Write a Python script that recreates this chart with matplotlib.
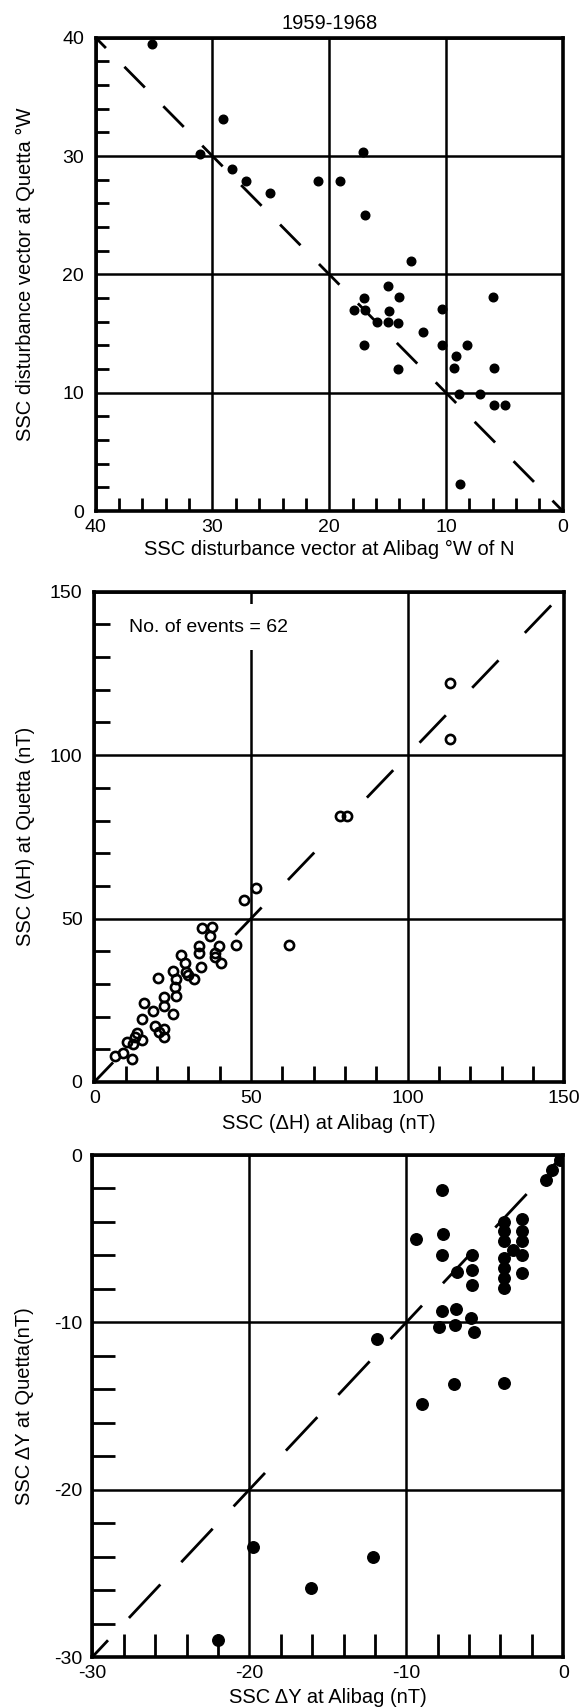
import matplotlib
matplotlib.use("Agg")
import matplotlib.pyplot as plt
import numpy as np
from matplotlib.ticker import MultipleLocator

plt.rcParams['font.family'] = ['Liberation Sans', 'DejaVu Sans']
plt.rcParams['axes.unicode_minus'] = False

# ---------------- data ----------------
title_1 = "1959-1968"
p1_alibag = [35.2, 31.1, 29.1, 28.3, 27.1, 25.1, 21.0, 19.1, 17.1, 16.9, 13.0, 17.9,
             17.0, 16.9, 17.0, 15.9, 15.0, 14.9, 15.0, 14.0, 14.1, 14.1, 12.0, 10.3,
             10.3, 9.1, 9.3, 8.9, 8.2, 7.1, 6.0, 5.9, 5.9, 4.9, 8.8]
p1_quetta = [39.5, 30.2, 33.1, 28.9, 27.9, 26.9, 27.9, 27.9, 30.3, 25.0, 21.1, 17.0,
             18.0, 17.0, 14.0, 16.0, 19.0, 16.9, 16.0, 18.1, 15.9, 12.0, 15.1, 17.1,
             14.0, 13.1, 12.1, 9.9, 14.0, 9.9, 18.1, 12.1, 9.0, 9.0, 2.3]

p2_alibag = [113.5, 113.5, 78.5, 80.8, 62.0, 51.5, 47.7, 45.1,
             34.5, 37.6, 36.8, 33.4, 39.7, 33.4, 38.4, 38.4, 40.4, 27.8,
             29.1, 34.0, 29.4, 30.0, 31.8, 25.1, 26.2, 20.3, 25.6, 26.0,
             22.1, 22.1, 15.9, 18.8, 25.1, 15.2, 19.5, 22.2, 20.5, 22.4,
             13.6, 12.9, 12.4, 15.2, 10.5, 9.0, 6.5, 12.0]
p2_quetta = [122.0, 105.0, 81.5, 81.3, 42.0, 59.5, 55.6, 41.9,
             47.2, 47.5, 44.8, 41.6, 41.6, 39.4, 39.4, 38.2, 36.4, 38.9,
             36.4, 35.1, 33.8, 32.8, 31.6, 34.0, 31.5, 31.8, 29.0, 26.3,
             26.0, 23.4, 24.2, 21.7, 20.7, 19.2, 17.0, 16.2, 15.2, 13.8,
             15.0, 13.7, 11.5, 12.8, 12.2, 8.8, 8.0, 7.0]
p2_note = "No. of events = 62"

p3_alibag = [-0.2, -0.7, -1.1, -7.7, -9.4, -7.65, -7.7, -5.8, -6.8, -5.8, -5.8, -7.7,
             -6.85, -7.9, -6.9, -5.85, -5.7, -11.85, -6.95, -9.0, -3.8, -19.75, -12.1,
             -16.1, -22.0,
             -3.75, -3.75, -3.75, -3.75, -3.75, -3.75, -3.75,
             -2.65, -2.65, -2.65, -2.65, -2.65, -3.2]
p3_quetta = [-0.3, -0.9, -1.5, -2.1, -5.0, -4.75, -6.0, -5.95, -7.0, -6.9, -7.75, -9.35,
             -9.2, -10.3, -10.15, -9.75, -10.6, -11.0, -13.7, -14.9, -13.65, -23.4, -24.0,
             -25.9, -29.0,
             -4.0, -4.55, -5.15, -6.15, -6.75, -7.35, -7.95,
             -3.85, -4.55, -5.15, -6.0, -7.05, -5.7]

# y = x reference line: visible stretches (panel 2 is interrupted in the original)
p2_diag_ranges = [(0, 6), (45, 72), (87, 148)]

labels = {
    'p1x': "SSC disturbance vector at Alibag °W of N",
    'p1y': "SSC disturbance vector at Quetta °W",
    'p2x': "SSC (ΔH) at Alibag (nT)",
    'p2y': "SSC (ΔH) at Quetta (nT)",
    'p3x': "SSC ΔY at Alibag (nT)",
    'p3y': "SSC ΔY at Quetta(nT)",
}

# ---------------- figure ----------------
W, H = 585, 1707
fig = plt.figure(figsize=(W / 100, H / 100), dpi=100)


def add_axes_px(left, top, right, bottom):
    return fig.add_axes([left / W, 1 - bottom / H, (right - left) / W, (bottom - top) / H])


ax1 = add_axes_px(95.7, 37.7, 562.7, 511.0)
ax2 = add_axes_px(94.3, 591.7, 564.3, 1082.0)
ax3 = add_axes_px(92.3, 1155.0, 563.3, 1657.0)


def style(ax, xlim, ylim, major, minor, ticklen, xpad, ypad):
    ax.set_xlim(*xlim)
    ax.set_ylim(*ylim)
    for axis in (ax.xaxis, ax.yaxis):
        axis.set_major_locator(MultipleLocator(major))
        axis.set_minor_locator(MultipleLocator(minor))
    ax.grid(True, which='major', color='black', linewidth=1.8, zorder=1)
    ax.set_axisbelow(True)
    ax.tick_params(which='both', direction='in', top=False, right=False,
                   width=2.0, color='black')
    ax.tick_params(which='major', length=0, labelsize=14)
    ax.tick_params(which='minor', length=ticklen)
    ax.tick_params(axis='x', which='major', pad=xpad)
    ax.tick_params(axis='y', which='major', pad=ypad)
    for s in ax.spines.values():
        s.set_linewidth(2.6)


def dashed_diagonal(ax, start, stop, period, dash, phase, lw=2.0):
    n = int(np.ceil((stop - start) / period)) + 3
    centers = start + phase + period * np.arange(-2, n)
    for c in centers:
        a = max(start, c - dash / 2)
        b = min(stop, c + dash / 2)
        if b > a:
            ax.plot([a, b], [a, b], color='black', lw=lw,
                    solid_capstyle='butt', zorder=2)


def place_labels(ax, xlabel, ylabel, xlab_y, ylab_x, size=14.5):
    ax.set_xlabel(xlabel, fontsize=size, va='center')
    ax.set_ylabel(ylabel, fontsize=size, va='center')
    ax.xaxis.set_label_coords(0.5, xlab_y)
    ax.yaxis.set_label_coords(ylab_x, 0.5)


# Panel 1
style(ax1, (40, 0), (0, 40), 10, 2, 9.5, 5.5, 8.5)
dashed_diagonal(ax1, 0, 40, 10 / 3, 1.75, 0.0)
ax1.plot(p1_alibag, p1_quetta, 'o', color='black', ms=6.2, linestyle='none', zorder=3)
ax1.set_title(title_1, fontsize=14.5, pad=6)
place_labels(ax1, labels['p1x'], labels['p1y'], -0.082, -0.151)

# Panel 2
style(ax2, (0, 150), (0, 150), 50, 10, 11.5, 5.5, 8.5)
for a, b in p2_diag_ranges:
    dashed_diagonal(ax2, a, b, 16.8, 8.4, 4.2)
ax2.plot(p2_alibag, p2_quetta, 'o', mfc='none', mec='black', mew=1.9, ms=6.6,
         linestyle='none', zorder=3)
ax2.text(11.0, 139.1, p2_note, fontsize=14, va='center', ha='left', zorder=4,
         bbox=dict(boxstyle='square,pad=0.75', fc='white', ec='none'))
place_labels(ax2, labels['p2x'], labels['p2y'], -0.084, -0.147)

# Panel 3
style(ax3, (-30, 0), (-30, 0), 10, 2, 16.5, 5.5, 7.0)
dashed_diagonal(ax3, -30, 0, 10 / 3, 2.0, 0.0)
ax3.plot(p3_alibag, p3_quetta, 'o', color='black', ms=8.3, linestyle='none', zorder=3)
place_labels(ax3, labels['p3x'], labels['p3y'], -0.080, -0.143)

fig.savefig("out.png", dpi=100, facecolor='white')
